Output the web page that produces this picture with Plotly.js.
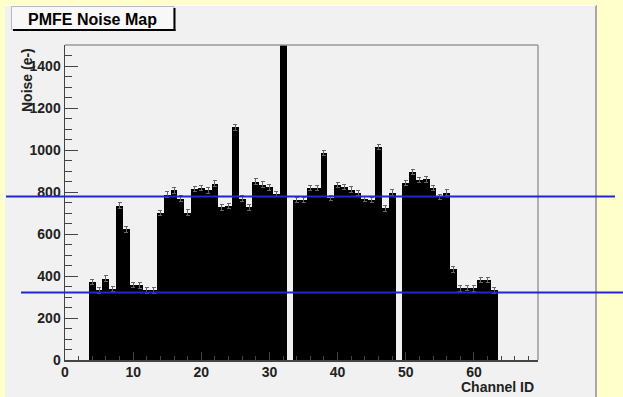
<!DOCTYPE html>
<html>
<head>
<meta charset="utf-8">
<script src="https://cdn.plot.ly/plotly-3.0.1.min.js"></script>
<style>
html,body{margin:0;padding:0;background:#FFFFCC;}
#chart{width:623px;height:397px;}
</style>
</head>
<body>
<div id="chart"></div>
<script>
// ---- data ----
const channels = [4,5,6,7,8,9,10,11,12,13,14,15,16,17,18,19,20,21,22,23,24,25,26,27,28,29,30,31,32,33,
                  34,35,36,37,38,39,40,41,42,43,44,45,46,47,48,49,50,51,52,53,54,55,56,57,58,59,60,61,62,63];
const noise = [372,331,388,339,735,622,357,355,331,331,700,788,808,768,702,815,820,808,840,727,733,1108,768,727,850,835,822,790,1600,null,
               762,762,820,820,986,772,833,825,811,795,767,762,1015,722,797,null,843,895,858,860,820,775,797,432,341,344,341,382,382,332];
const noiseErr = 13;
const refLines = [778, 322];
const xTickVals = [0,10,20,30,40,50,60];
const yTickVals = [0,200,400,600,800,1000,1200,1400];

// ---- geometry helpers (pixels -> paper) ----
const W = 623, H = 397, L = 65, R = 85, T = 45, B = 37;
const PW = W - L - R, PH = H - T - B;
const px = v => (v - L) / PW;
const py = v => (H - B - v) / PH;

const shapes = [
  // grey canvas panel
  {type:'rect', xref:'paper', yref:'paper', x0:px(5), x1:px(596), y0:py(400), y1:py(5),
   fillcolor:'#F1F1F1', line:{width:0}, layer:'below'},
  {type:'line', xref:'paper', yref:'paper', x0:px(596), x1:px(596), y0:py(400), y1:py(5),
   line:{color:'#A8A8A8', width:2}, layer:'below'},
  {type:'line', xref:'paper', yref:'paper', x0:px(5), x1:px(596), y0:py(5.5), y1:py(5.5),
   line:{color:'#FFFFFF', width:1}, layer:'below'},
  // frame top and right
  {type:'line', xref:'paper', yref:'paper', x0:0, x1:1, y0:1, y1:1, line:{color:'#9A9A9A', width:1.5}},
  {type:'line', xref:'paper', yref:'paper', x0:1, x1:1, y0:0, y1:1, line:{color:'#9A9A9A', width:1.5}},
  // title box
  {type:'rect', xref:'paper', yref:'paper', x0:px(11.5), x1:px(174), y0:py(29.5), y1:py(6.5),
   fillcolor:'#F8F8F8', line:{color:'#B8B8B8', width:1}},
  {type:'line', xref:'paper', yref:'paper', x0:px(174.5), x1:px(174.5), y0:py(31), y1:py(8),
   line:{color:'#000000', width:2}},
  {type:'line', xref:'paper', yref:'paper', x0:px(13), x1:px(175.5), y0:py(30), y1:py(30),
   line:{color:'#000000', width:2}},
  // blue reference lines
  {type:'line', xref:'paper', yref:'y', x0:px(6), x1:px(615), y0:refLines[0], y1:refLines[0],
   line:{color:'#2323DC', width:2}, layer:'above'},
  {type:'line', xref:'paper', yref:'y', x0:px(21), x1:px(625), y0:refLines[1], y1:refLines[1],
   line:{color:'#2323DC', width:2}, layer:'above'}
];

const annotations = [
  {text:'PMFE Noise Map', xref:'paper', yref:'paper', x:px(92), y:py(19), xanchor:'center', yanchor:'middle',
   showarrow:false, font:{family:'Liberation Sans, Arial, sans-serif', size:16, color:'#000', weight:'bold'}},
  {text:'Channel ID', xref:'paper', yref:'paper', x:px(536), y:py(387), xanchor:'right', yanchor:'middle',
   showarrow:false, font:{family:'Liberation Sans, Arial, sans-serif', size:14, color:'#222', weight:'bold'}},
  {text:'Noise (e-)', xref:'paper', yref:'paper', x:px(27), y:py(46), xanchor:'center', yanchor:'top', textangle:-90,
   showarrow:false, font:{family:'Liberation Sans, Arial, sans-serif', size:14, color:'#222', weight:'bold'}}
];

const trace = {
  type:'bar', x:channels, y:noise, width:1,
  marker:{color:'#000000', line:{width:0}},
  error_y:{type:'constant', value:noiseErr, color:'#666666', thickness:1, width:2},
  hoverinfo:'x+y'
};

const tickFont = {family:'Liberation Sans, Arial, sans-serif', size:14, color:'#222', weight:'bold'};

const layout = {
  width:W, height:H,
  margin:{l:L, r:R, t:T, b:B, pad:0},
  paper_bgcolor:'#FFFFCC',
  plot_bgcolor:'rgba(0,0,0,0)',
  showlegend:false,
  bargap:0,
  xaxis:{range:[0,69.4], tickvals:xTickVals, ticks:'inside', ticklen:8, tickwidth:1, tickcolor:'#444',
         minor:{dtick:2, ticks:'inside', ticklen:4, tickcolor:'#444', tickwidth:1},
         showgrid:false, zeroline:false, showline:true, linecolor:'#444', linewidth:1.5,
         tickfont:tickFont, ticklabelstandoff:-1, fixedrange:true},
  yaxis:{range:[0,1500], tickvals:yTickVals, ticks:'inside', ticklen:13, tickwidth:1, tickcolor:'#444',
         minor:{dtick:50, ticks:'inside', ticklen:7, tickcolor:'#444', tickwidth:1},
         showgrid:false, zeroline:false, showline:true, linecolor:'#444', linewidth:1.5,
         tickfont:tickFont, fixedrange:true},
  shapes:shapes,
  annotations:annotations
};

Plotly.newPlot('chart', [trace], layout, {displayModeBar:false, staticPlot:true});
</script>
</body>
</html>
